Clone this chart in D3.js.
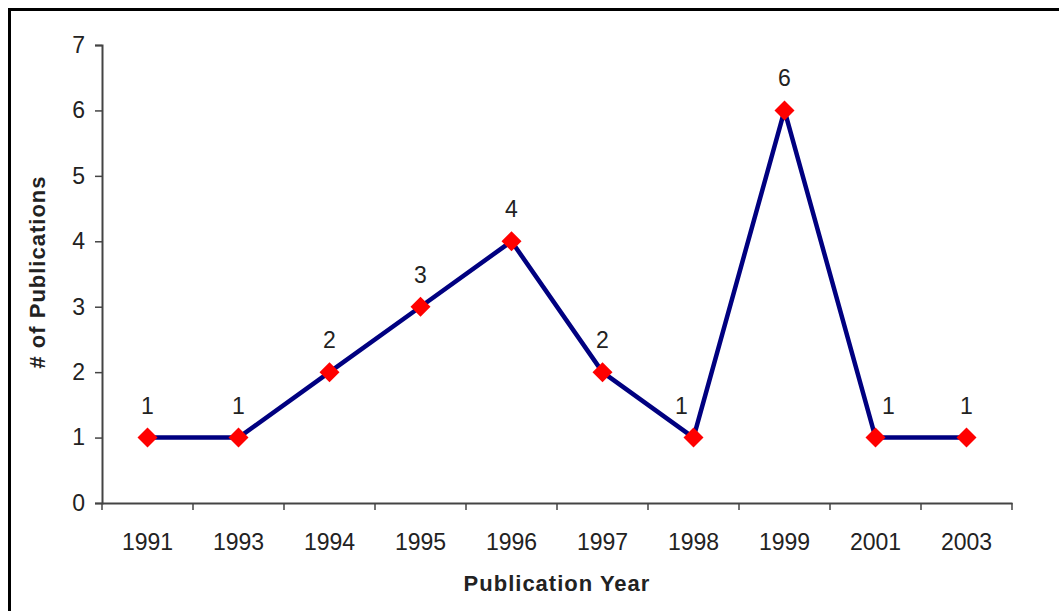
<!DOCTYPE html>
<html>
<head>
<meta charset="utf-8">
<script src="https://cdn.jsdelivr.net/npm/d3@7"></script>
<style>
  body { margin: 0; background: #fff; }
  svg text { font-family: "Liberation Sans", Arial, sans-serif; fill: #222; }
</style>
</head>
<body>
<div id="demo"></div>
<script>
// data
let years = ["1991", "1993", "1994", "1995", "1996", "1997", "1998", "1999", "2001", "2003"];
let counts = [1, 1, 2, 3, 4, 2, 1, 6, 1, 1];
let yTicks = [0, 1, 2, 3, 4, 5, 6, 7];

let W = 1059, H = 611;
let m = {top: 45, right: 47, bottom: 108, left: 102};

let svg = d3.select("#demo")
    .append("svg")
    .attr("width", W)
    .attr("height", H);

// frame (only top and left edge visible in the picture)
svg.append("path")
    .attr("d", "M9.5,611 L9.5,9.5 L1059,9.5")
    .attr("fill", "none")
    .attr("stroke", "#000")
    .attr("stroke-width", 3);

let x = d3.scaleBand()
    .domain(years)
    .range([m.left, W - m.right])
    .padding(0);

let y = d3.scaleLinear()
    .domain([0, 7])
    .range([H - m.bottom, m.top]);

// y axis
let yAxis = svg.append("g")
    .attr("transform", "translate(" + m.left + ",0)")
    .call(d3.axisLeft(y).tickValues(yTicks).tickFormat(d3.format("d")).tickSize(7).tickPadding(10));
yAxis.select(".domain").attr("stroke", "#444").attr("stroke-width", 2);
yAxis.selectAll(".tick line").attr("stroke", "#444").attr("stroke-width", 1.5);
yAxis.selectAll("text").style("font-size", "23px").attr("fill", "#222");

// x axis - labels at centres, ticks at category boundaries
let xAxis = svg.append("g")
    .attr("transform", "translate(0," + y(0) + ")")
    .call(d3.axisBottom(x).tickSize(0).tickSizeOuter(0));
xAxis.select(".domain").attr("stroke", "#444").attr("stroke-width", 2);
xAxis.selectAll("text")
    .attr("y", 47).attr("dy", 0)
    .style("font-size", "23px").attr("fill", "#222");

let edges = years.map(d => x(d)).concat([x.range()[1]]);
xAxis.selectAll(".edge")
    .data(edges)
    .enter()
    .append("line")
    .attr("class", "edge")
    .attr("x1", d => d).attr("x2", d => d)
    .attr("y1", 0).attr("y2", 7)
    .attr("stroke", "#444")
    .attr("stroke-width", 1.5);

// axis titles
svg.append("text")
    .attr("x", x.range()[0] + (x.range()[1] - x.range()[0]) / 2)
    .attr("y", 591)
    .attr("text-anchor", "middle")
    .style("font-size", "22px")
    .style("font-weight", "bold")
    .style("letter-spacing", "1px")
    .text("Publication Year");

svg.append("text")
    .attr("transform", "translate(45," + ((y(0) + y(7)) / 2 - 2) + ") rotate(-90)")
    .attr("text-anchor", "middle")
    .style("font-size", "22px")
    .style("font-weight", "bold")
    .style("letter-spacing", "1px")
    .text("# of Publications");

// line
let pts = years.map((d, i) => ({year: d, value: counts[i], i: i}));
let cx = d => x(d.year) + x.bandwidth() / 2;

svg.append("path")
    .datum(pts)
    .attr("fill", "none")
    .attr("stroke", "#000080")
    .attr("stroke-width", 4.5)
    .attr("stroke-linejoin", "round")
    .attr("d", d3.line().x(cx).y(d => y(d.value)));

// diamond markers
svg.selectAll(".mark")
    .data(pts)
    .enter()
    .append("path")
    .attr("class", "mark")
    .attr("transform", d => "translate(" + cx(d) + "," + y(d.value) + ")")
    .attr("d", "M0,-10 L10,0 L0,10 L-10,0 Z")
    .attr("fill", "#ff0000");

// value labels, nudged away from a steep neighbouring segment
let nudge = (d) => {
    let prev = d.i > 0 ? counts[d.i - 1] - d.value : 0;
    let next = d.i < counts.length - 1 ? counts[d.i + 1] - d.value : 0;
    if (next >= 3 && next > prev) return -12;
    if (prev >= 3 && prev > next) return 13;
    return 0;
};

svg.selectAll(".lbl")
    .data(pts)
    .enter()
    .append("text")
    .attr("class", "lbl")
    .attr("x", d => cx(d) + nudge(d))
    .attr("y", d => y(d.value) - 24)
    .attr("text-anchor", "middle")
    .style("font-size", "23px")
    .text(d => d.value);
</script>
</body>
</html>
